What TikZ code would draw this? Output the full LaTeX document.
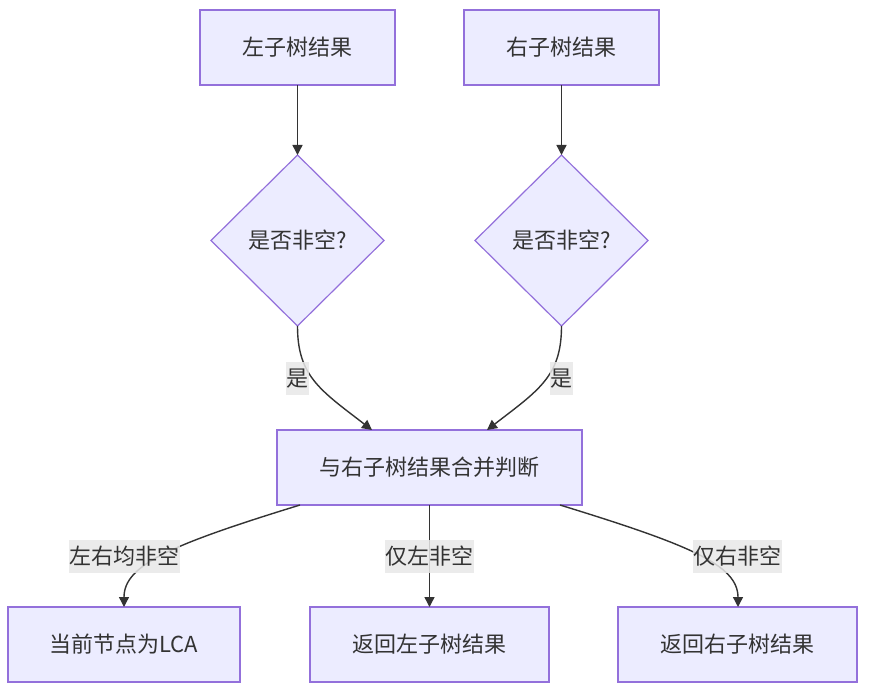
\documentclass[tikz,border=0pt]{standalone}
\usepackage{fontspec}
\newfontfamily\cjk{Noto Sans CJK SC}
\usetikzlibrary{shapes.geometric,arrows.meta,calc}
\definecolor{nodefill}{HTML}{ECECFF}
\definecolor{nodeborder}{HTML}{9370DB}
\definecolor{txt}{HTML}{333333}
\definecolor{lblbg}{HTML}{E8E8E8}
\tikzset{
  box/.style={draw=nodeborder, fill=nodefill, line width=1.2pt, minimum height=75pt, inner sep=0pt, outer sep=0pt, text=txt, font=\cjk\fontsize{22}{26}\selectfont},
  decision/.style={diamond, draw=nodeborder, fill=nodefill, line width=1.2pt, minimum width=173pt, minimum height=171pt, inner sep=0pt, outer sep=0pt, text=txt, font=\cjk\fontsize{22}{26}\selectfont},
  conn/.style={draw=txt, line width=1.4pt, -{Triangle[length=10pt,width=10pt]}},
  lbl/.style={fill=lblbg, fill opacity=0.85, text opacity=1, text=txt, inner xsep=0.5pt, inner ysep=0pt, minimum height=33pt, font=\cjk\fontsize{22}{26}\selectfont}
}
\begin{document}
\begin{tikzpicture}[x=1pt,y=-1pt]
\useasboundingbox (0,0) rectangle (870,690);
\fill[white] (0,0) rectangle (870,690);
\node[box, minimum width=195pt] (A) at (297.5,47.5) {左子树结果};
\node[box, minimum width=195pt] (B) at (561.5,47.5) {右子树结果};
\node[decision] (C) at (297.5,240.5) {是否非空?};
\node[decision] (D) at (561.5,240.5) {是否非空?};
\node[box, minimum width=305pt] (E) at (429.5,467.5) {与右子树结果合并判断};
\node[box, minimum width=232pt] (F) at (124,644.5) {当前节点为LCA};
\node[box, minimum width=239pt] (G) at (429.5,644.5) {返回左子树结果};
\node[box, minimum width=239pt] (H) at (737.5,644.5) {返回右子树结果};

\draw[conn] (A.south) -- (C.north);
\draw[conn] (B.south) -- (D.north);
\draw[conn] (C.south) .. controls +(0,50) and +(-52,-40) .. ($(E.north)+(-57.5,0)$);
\draw[conn] (D.south) .. controls +(0,50) and +(52,-40) .. ($(E.north)+(57.5,0)$);
\draw[conn] ($(E.south west)+(23,0)$) .. controls +(-130,40) and +(0,-42) .. (F.north);
\draw[conn] (E.south) -- (G.north);
\draw[conn] ($(E.south east)+(-22,0)$) .. controls +(130,40) and +(0,-42) .. ($(H.north)+(0.5,0)$);

\node[lbl] (l1) at (297.5,378.5) {是};
\node[lbl] (l2) at (561.5,378.5) {是};
\node[lbl] (l3) at (124.5,556.5) {左右均非空};
\node[lbl] (l4) at (429.5,556.5) {仅左非空};
\node[lbl] (l5) at (737.5,556.5) {仅右非空};
\end{tikzpicture}
\end{document}
